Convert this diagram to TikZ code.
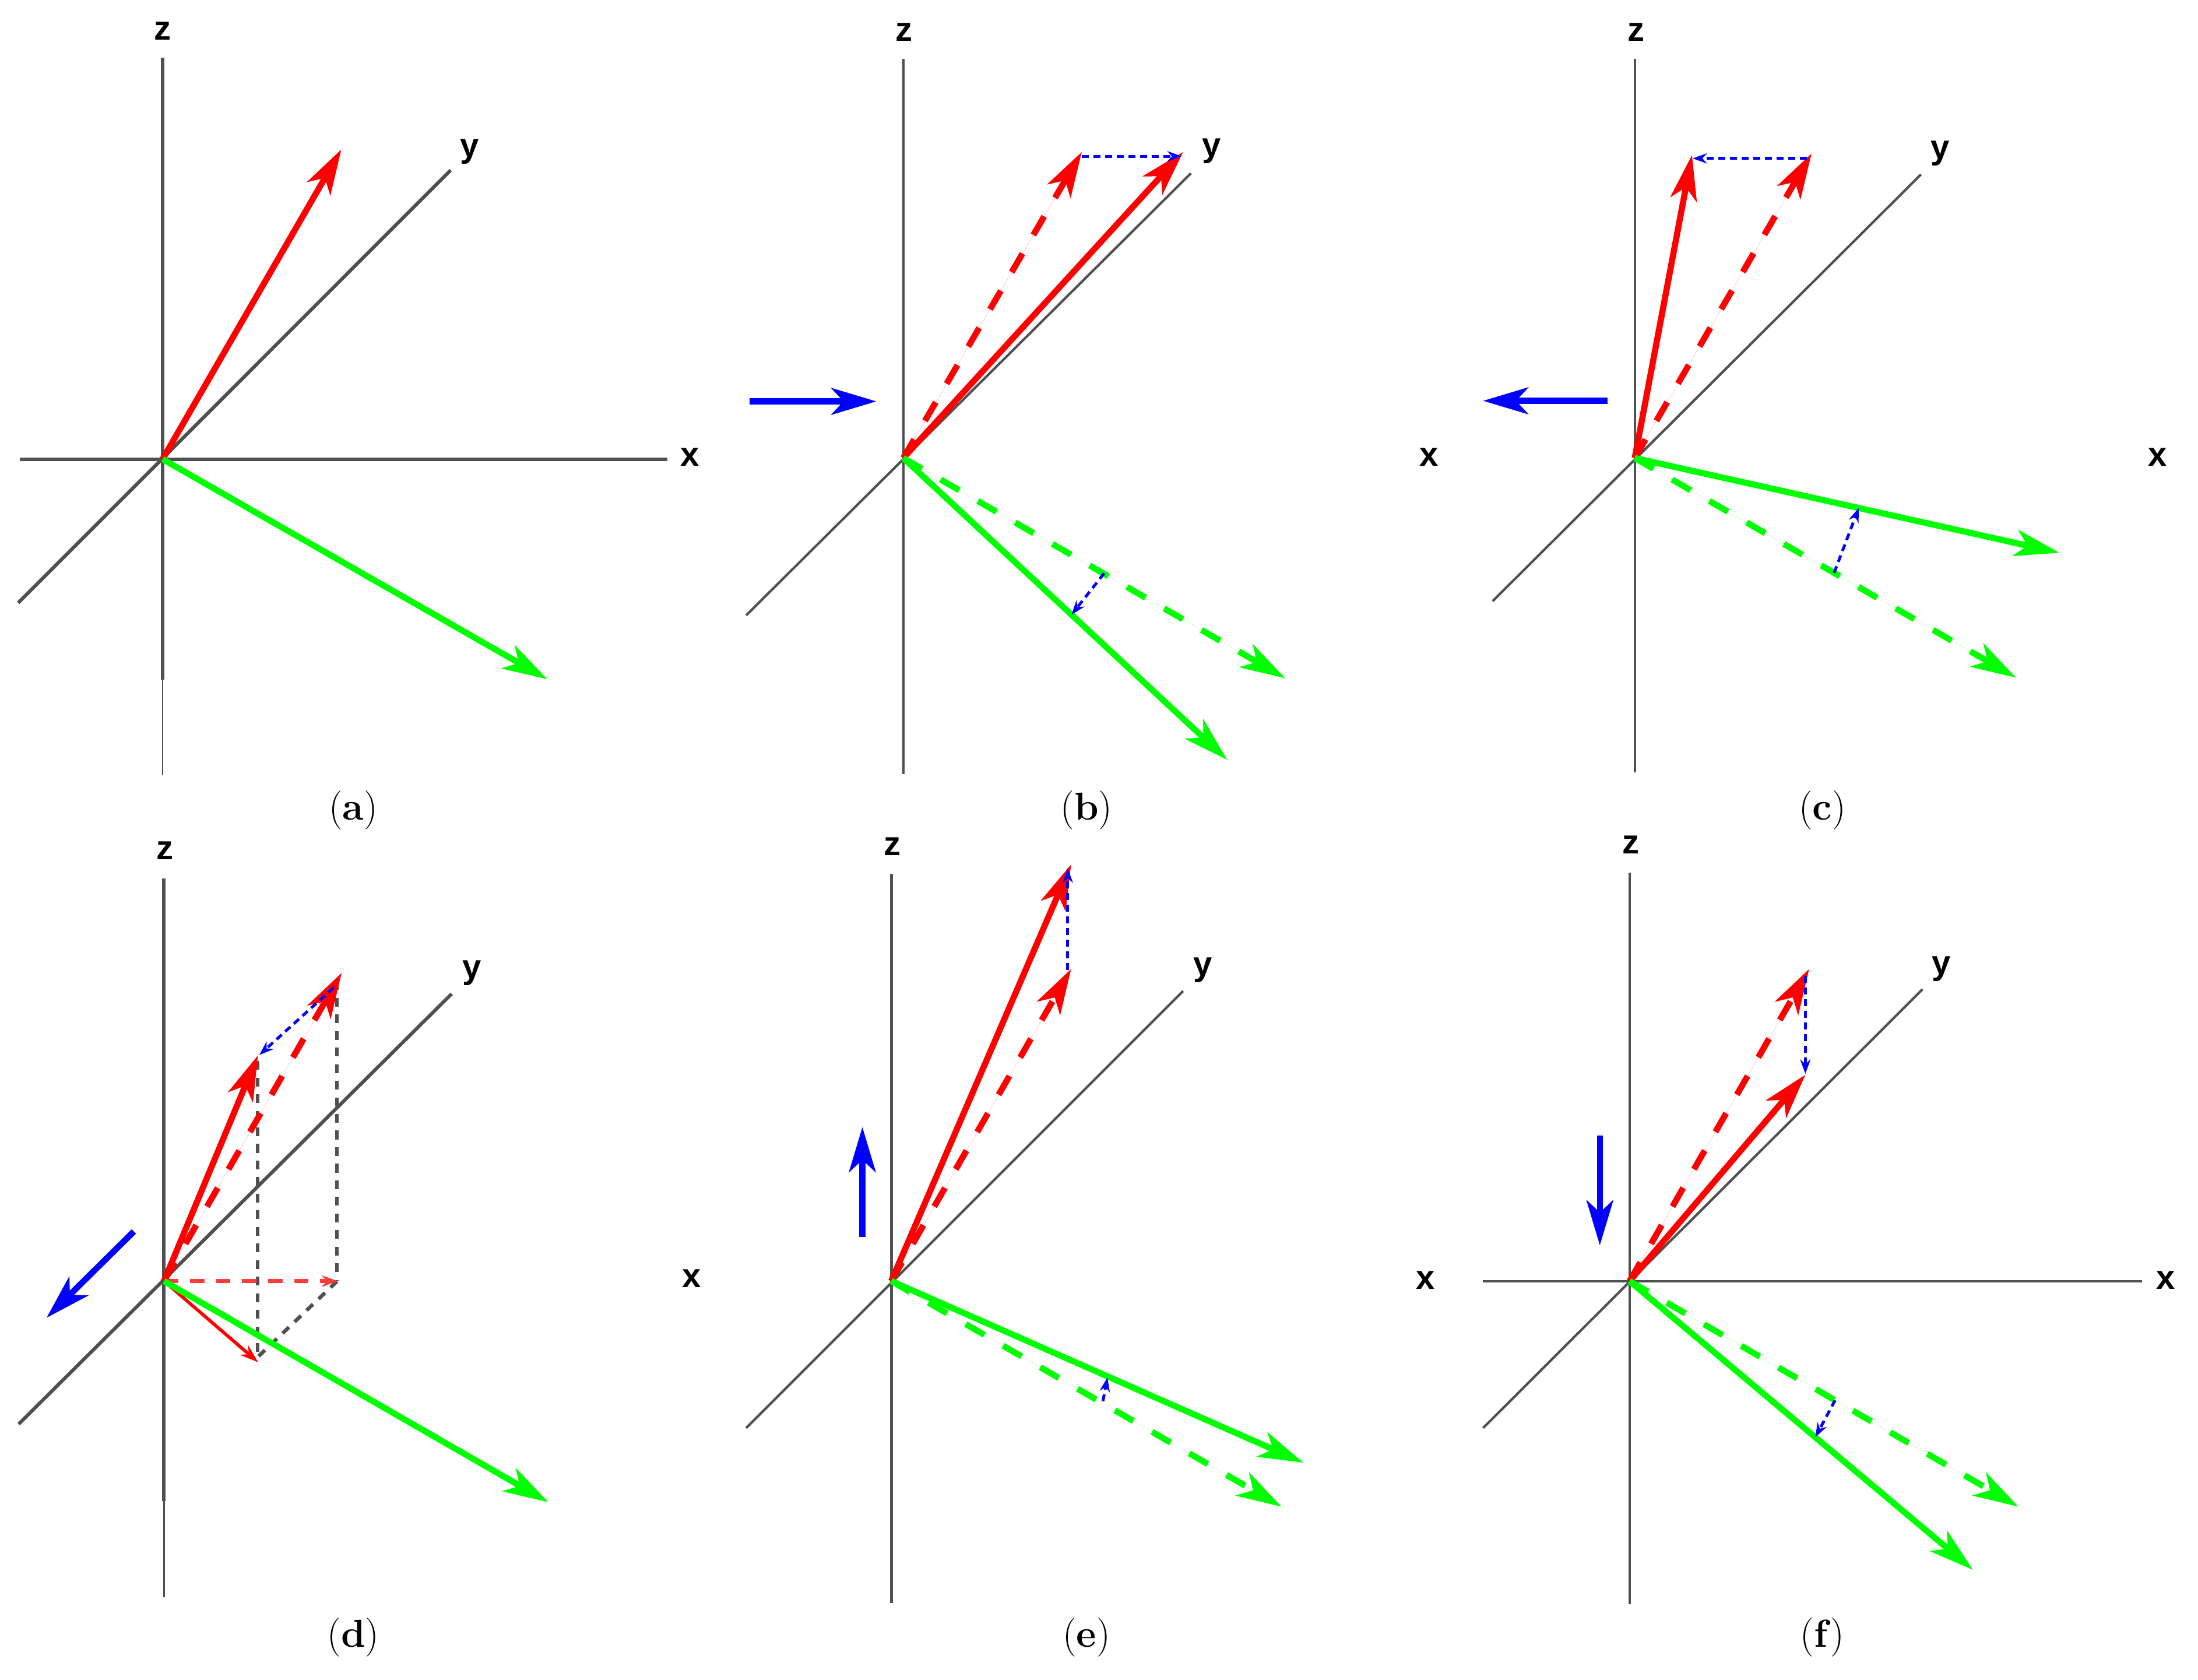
\documentclass[tikz,border=0pt]{standalone}
\usepackage{fontspec}
\setsansfont{Liberation Sans}
\usetikzlibrary{arrows.meta}
\definecolor{vred}{RGB}{255,0,0}
\definecolor{vgreen}{RGB}{0,255,0}
\definecolor{vblue}{RGB}{0,0,255}
\definecolor{axgray}{RGB}{80,80,80}
\definecolor{lred}{RGB}{255,60,60}
\tikzset{
  axthick/.style={draw=axgray, line width=1.7pt},
  axthin/.style={draw=axgray, line width=1.2pt},
  axfaint/.style={draw=axgray, line width=0.8pt},
  bigvec/.style={line width=3pt, -{Stealth[length=22pt,width=13pt,inset=6pt]}},
  redvec/.style={bigvec, draw=vred, fill=vred},
  greenvec/.style={bigvec, draw=vgreen, fill=vgreen},
  bluevec/.style={bigvec, draw=vblue, fill=vblue},
  dashvec/.style={dash pattern=on 10.5pt off 10.5pt},
  bluedot/.style={draw=vblue, line width=1.4pt, dash pattern=on 3.4pt off 2.3pt,
    -{Stealth[length=7pt,width=5pt]}},
  graydash/.style={draw=axgray, line width=1.8pt, dash pattern=on 4.3pt off 3.8pt},
  projdash/.style={draw=lred, line width=2pt, dash pattern=on 7pt off 5.7pt,
    -{Stealth[length=8pt,width=5.5pt]}},
  projvec/.style={draw=vred, line width=1.6pt, -{Stealth[length=9pt,width=6pt]}},
  axlabel/.style={font=\sffamily\bfseries\fontsize{16.5}{16.5}\selectfont, inner sep=0pt},
  panlabel/.style={font=\fontsize{19}{19}\selectfont, inner sep=0pt},
}
\begin{document}
\begin{tikzpicture}[x=0.02405cm, y=-0.02405cm]
\useasboundingbox (0,0) rectangle (1568,1198);
\fill[white] (0,0) rectangle (1568,1198);

% ---------------- panel (a) ----------------
\coordinate (aO) at (116,327.5);
\coordinate (aZt) at (116,41); \coordinate (aZm) at (116,485); \coordinate (aZb) at (116,553);
\coordinate (aXl) at (14,327.5); \coordinate (aXr) at (476,327.5);
\coordinate (aYl) at (13,430); \coordinate (aYr) at (321.5,121.4);
\coordinate (aR) at (243.5,106.6);
\coordinate (aG) at (390.5,484.5);
\draw[axthick] (aZt) -- (aZm);
\draw[axfaint] (aZm) -- (aZb);
\draw[axthick] (aXl) -- (aXr);
\draw[axthick] (aYl) -- (aYr);
\draw[redvec] (aO) -- (aR);
\draw[greenvec] (aO) -- (aG);
\node[axlabel] (azl) at (116,22) {z};
\node[axlabel] (ayl) at (335,108) {y};
\node[axlabel] (axl) at (492,326) {x};
\node[panlabel] (alab) at (252,578) {(\textbf{a})};

% ---------------- panel (b) ----------------
\coordinate (bO) at (644.4,326.7);
\coordinate (bZt) at (644.4,42); \coordinate (bZb) at (644.4,552);
\coordinate (bYl) at (532.3,438.9); \coordinate (bYr) at (849.6,123.6);
\coordinate (bBs) at (534.7,286.3); \coordinate (bBe) at (625.2,286.3);
\coordinate (bR) at (844,108.4); \coordinate (bRd) at (771.7,108.4);
\coordinate (bRs1) at (771.7,111.5); \coordinate (bRs2) at (843,111.5);
\coordinate (bG) at (875.5,542); \coordinate (bGd) at (916.9,483.8);
\coordinate (bGs1) at (787.6,409); \coordinate (bGs2) at (764.4,438.5);
\draw[axthin] (bZt) -- (bZb);
\draw[axthin] (bYl) -- (bYr);
\draw[bluevec] (bBs) -- (bBe);
\draw[redvec, dashvec] (bO) -- (bRd);
\draw[redvec] (bO) -- (bR);
\draw[bluedot] (bRs1) -- (bRs2);
\draw[greenvec, dashvec] (bO) -- (bGd);
\draw[greenvec] (bO) -- (bG);
\draw[bluedot] (bGs1) -- (bGs2);
\node[axlabel] (bzl) at (645,23) {z};
\node[axlabel] (byl) at (864.5,107.7) {y};
\node[axlabel] (bxl) at (1019.3,326) {x};
\node[panlabel] (blab) at (775,578) {(\textbf{b})};

% ---------------- panel (c) ----------------
\coordinate (cO) at (1166.2,326.7);
\coordinate (cZt) at (1166.2,42); \coordinate (cZb) at (1166.2,551);
\coordinate (cYl) at (1064.8,428.8); \coordinate (cYr) at (1370.4,124.4);
\coordinate (cBs) at (1146.7,285.9); \coordinate (cBe) at (1058,285.9);
\coordinate (cR) at (1207,110.6); \coordinate (cRd) at (1292.3,109.5);
\coordinate (cRs1) at (1288.9,113); \coordinate (cRs2) at (1207.5,113);
\coordinate (cG) at (1469.2,394.3); \coordinate (cGd) at (1438.2,483.4);
\coordinate (cGs1) at (1308.4,408.6); \coordinate (cGs2) at (1326,362.3);
\draw[axthin] (cZt) -- (cZb);
\draw[axthin] (cYl) -- (cYr);
\draw[bluevec] (cBs) -- (cBe);
\draw[redvec, dashvec] (cO) -- (cRd);
\draw[redvec] (cO) -- (cR);
\draw[bluedot] (cRs1) -- (cRs2);
\draw[greenvec, dashvec] (cO) -- (cGd);
\draw[greenvec] (cO) -- (cG);
\draw[bluedot] (cGs1) -- (cGs2);
\node[axlabel] (czl) at (1167,23) {z};
\node[axlabel] (cyl) at (1384,109.5) {y};
\node[axlabel] (cxl) at (1539.3,326) {x};
\node[panlabel] (clab) at (1300,578) {(\textbf{c})};

% ---------------- panel (d) ----------------
\coordinate (dO) at (117,913.8);
\coordinate (dZt) at (117,626.5); \coordinate (dZm) at (117,1070.8); \coordinate (dZb) at (117,1139.5);
\coordinate (dYl) at (13.3,1015.8); \coordinate (dYr) at (322.2,708.9);
\coordinate (dBs) at (95.5,878.4); \coordinate (dBe) at (33.2,940);
\coordinate (dR) at (184,752.8); \coordinate (dRd) at (243.7,694);
\coordinate (dRs1) at (238,704.5); \coordinate (dRs2) at (185,752.5);
\coordinate (dV1t) at (183.8,756.8); \coordinate (dV1b) at (183.8,968);
\coordinate (dV2t) at (240.4,699.9); \coordinate (dV2b) at (240.4,914);
\coordinate (dPx) at (241.2,913.8); \coordinate (dPy) at (184.2,971.7);
\coordinate (dG) at (391.2,1071.5);
\draw[axthick] (dZt) -- (dZm);
\draw[axfaint] (dZm) -- (dZb);
\draw[axthick] (dYl) -- (dYr);
\draw[bluevec] (dBs) -- (dBe);
\draw[graydash] (dV1t) -- (dV1b);
\draw[graydash] (dV2t) -- (dV2b);
\draw[graydash] (dV2b) -- (dV1b);
\draw[projdash] (dO) -- (dPx);
\draw[projvec] (dO) -- (dPy);
\draw[redvec, dashvec] (dO) -- (dRd);
\draw[redvec] (dO) -- (dR);
\draw[bluedot] (dRs1) -- (dRs2);
\draw[greenvec] (dO) -- (dG);
\node[axlabel] (dzl) at (117.7,606.8) {z};
\node[axlabel] (dyl) at (336.5,694) {y};
\node[axlabel] (dxl) at (493.3,911.8) {x};
\node[panlabel] (dlab) at (252,1168) {(\textbf{d})};

% ---------------- panel (e) ----------------
\coordinate (eO) at (635.8,913.8);
\coordinate (eZt) at (636,623.3); \coordinate (eZb) at (636,1143.4);
\coordinate (eYl) at (532.3,1018.6); \coordinate (eYr) at (844,706.9);
\coordinate (eBs) at (615.2,882.4); \coordinate (eBe) at (615.2,803.9);
\coordinate (eR) at (764.1,616.6); \coordinate (eRd) at (764.1,691.2);
\coordinate (eRs1) at (761.7,692); \coordinate (eRs2) at (761.7,619.4);
\coordinate (eG) at (929.8,1043.3); \coordinate (eGd) at (914.2,1074.7);
\coordinate (eGs1) at (786.8,999.5); \coordinate (eGs2) at (790,982.5);
\draw[axthin] (eZt) -- (eZb);
\draw[axthin] (eYl) -- (eYr);
\draw[bluevec] (eBs) -- (eBe);
\draw[redvec, dashvec] (eO) -- (eRd);
\draw[redvec] (eO) -- (eR);
\draw[bluedot] (eRs1) -- (eRs2);
\draw[greenvec, dashvec] (eO) -- (eGd);
\draw[greenvec] (eO) -- (eG);
\draw[bluedot] (eGs1) -- (eGs2);
\node[axlabel] (ezl) at (636.4,603.7) {z};
\node[axlabel] (eyl) at (858,692) {y};
\node[axlabel] (exl) at (1017,913) {x};
\node[panlabel] (elab) at (775,1168) {(\textbf{e})};

% ---------------- panel (f) ----------------
\coordinate (fO) at (1162.5,913.8);
\coordinate (fZt) at (1162.5,622.5); \coordinate (fZb) at (1162.5,1144.2);
\coordinate (fXl) at (1058,913.8); \coordinate (fXr) at (1528.2,913.8);
\coordinate (fYl) at (1058,1018.6); \coordinate (fYr) at (1371.4,705.7);
\coordinate (fBs) at (1141.3,809.8); \coordinate (fBe) at (1141.3,888.3);
\coordinate (fR) at (1287.9,766.6); \coordinate (fRd) at (1290.6,691.2);
\coordinate (fRs1) at (1287.9,696); \coordinate (fRs2) at (1287.9,766);
\coordinate (fG) at (1407.5,1119.8); \coordinate (fGd) at (1439.9,1074.7);
\coordinate (fGs1) at (1309.1,998.8); \coordinate (fGs2) at (1295,1025.2);
\draw[axthin] (fZt) -- (fZb);
\draw[axthin] (fXl) -- (fXr);
\draw[axthin] (fYl) -- (fYr);
\draw[bluevec] (fBs) -- (fBe);
\draw[redvec, dashvec] (fO) -- (fRd);
\draw[redvec] (fO) -- (fR);
\draw[bluedot] (fRs1) -- (fRs2);
\draw[greenvec, dashvec] (fO) -- (fGd);
\draw[greenvec] (fO) -- (fG);
\draw[bluedot] (fGs1) -- (fGs2);
\node[axlabel] (fzl) at (1163.5,602.5) {z};
\node[axlabel] (fyl) at (1385,691.2) {y};
\node[axlabel] (fxl) at (1545,913) {x};
\node[panlabel] (flab) at (1300,1168) {(\textbf{f})};
\end{tikzpicture}
\end{document}
